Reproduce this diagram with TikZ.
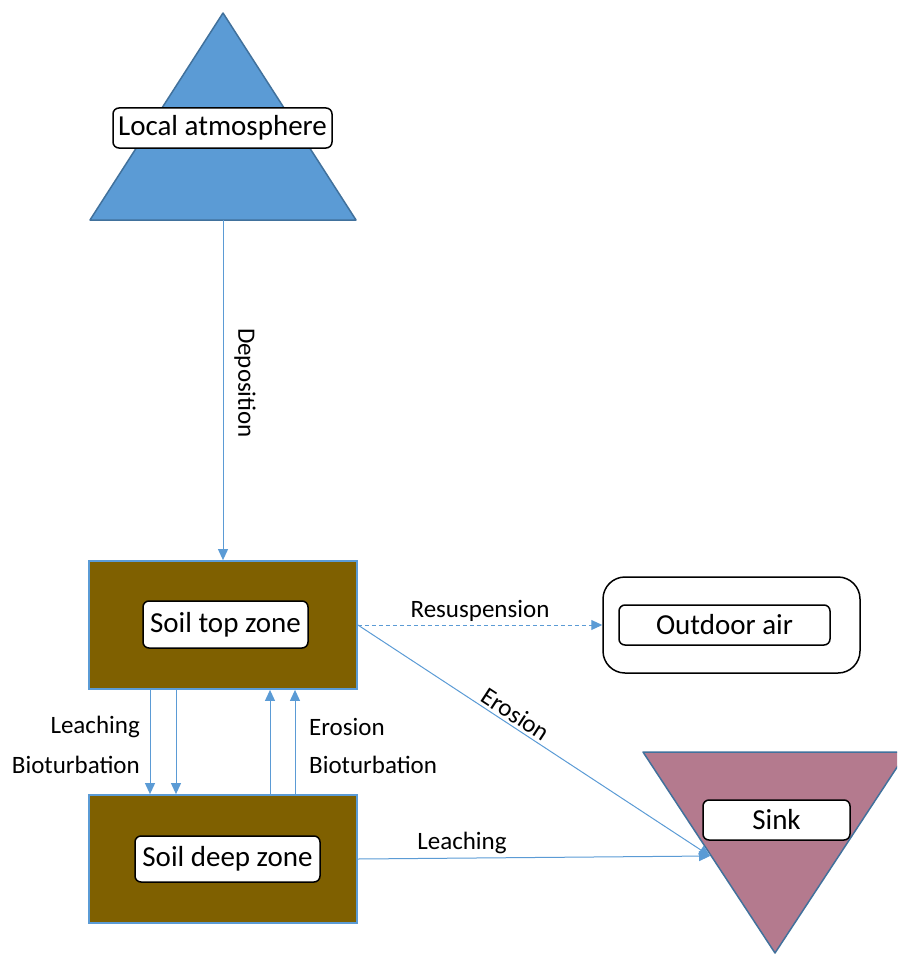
\documentclass[tikz,border=0pt]{standalone}
\usepackage{fontspec}
\setmainfont{Carlito}
\usetikzlibrary{arrows.meta}
\definecolor{flowblue}{HTML}{5B9BD5}
\definecolor{edgeblue}{HTML}{41719C}
\definecolor{soil}{HTML}{7F6000}
\definecolor{atmblue}{HTML}{5B9BD5}
\definecolor{sinkrose}{RGB}{180,122,142}

\tikzset{
  tag/.style={draw=black, line width=1.5pt, fill=white, rounded corners=6pt,
    font=\fontsize{29}{34}\selectfont, inner sep=0pt},
  flow/.style={draw=flowblue, line width=1pt, -{Triangle[length=11pt,width=10pt]}},
  flowlabel/.style={font=\fontsize{25}{30}\selectfont, inner sep=0pt},
  soilbox/.style={draw=flowblue, line width=1.8pt, fill=soil,
    minimum width=268pt, minimum height=128pt, inner sep=0pt},
}

\begin{document}
\begin{tikzpicture}[x=1pt, y=-1pt]
  \useasboundingbox (0,0) rectangle (897,955);
  \clip (0,0) rectangle (897,955);

  % local atmosphere compartment
  \draw[fill=atmblue, draw=edgeblue, line width=1.5pt, line join=round]
    (223,13) -- (356,220) -- (90,220) -- cycle;
  \coordinate (atmbase) at (223,220);
  \node[tag, minimum width=219pt, minimum height=40pt] (atmtag) at (222.5,128) {Local atmosphere};

  % soil compartments
  \node[soilbox] (stop) at (223,625) {};
  \node[tag, minimum width=165pt, minimum height=47pt] (stoptag) at (225.5,624.5) {Soil top zone};
  \node[soilbox] (sdeep) at (223,859) {};
  \node[tag, minimum width=185pt, minimum height=46pt] (sdeeptag) at (227.5,859) {Soil deep zone};

  % outdoor air
  \node[draw=black, line width=1.5pt, rounded corners=22pt, minimum width=257pt,
    minimum height=96pt, inner sep=0pt] (outdoor) at (731.5,625) {};
  \node[tag, minimum width=211pt, minimum height=40pt] (outdoortag) at (724.5,625) {Outdoor air};

  % sink compartment
  \draw[fill=sinkrose, draw=edgeblue, line width=1.5pt, line join=round]
    (643,752) -- (907,752) -- (775,953) -- cycle;
  \coordinate (sinkin) at (710,856);
  \node[tag, minimum width=147pt, minimum height=40pt] (sinktag) at (776.5,820) {Sink};

  % transfers
  \draw[flow] (atmbase) -- (stop.north);
  \node[flowlabel, rotate=-90] (deplabel) at (245,383) {Deposition};

  \draw[flow, dash pattern=on 4pt off 3pt] (stop.east) -- (outdoor.west);
  \node[flowlabel] (reslabel) at (480,611) {Resuspension};

  \draw[flow] (stop.east) -- node[flowlabel, sloped, above=3pt, pos=0.43] (erolabel) {Erosion} (sinkin);
  \draw[flow] (sdeep.east) -- (sinkin);
  \node[flowlabel] (leachlabel) at (462,843) {Leaching};

  \draw[flow] ([xshift=-73pt]stop.south) -- ([xshift=-73pt]sdeep.north);
  \draw[flow] ([xshift=-47pt]stop.south) -- ([xshift=-47pt]sdeep.north);
  \draw[flow] ([xshift=47pt]sdeep.north) -- ([xshift=47pt]stop.south);
  \draw[flow] ([xshift=72pt]sdeep.north) -- ([xshift=72pt]stop.south);

  \node[flowlabel, anchor=east] (downa) at (140,727) {Leaching};
  \node[flowlabel, anchor=east] (downb) at (140,765) {Bioturbation};
  \node[flowlabel, anchor=west] (upa) at (309,727) {Erosion};
  \node[flowlabel, anchor=west] (upb) at (309,765) {Bioturbation};
\end{tikzpicture}
\end{document}
